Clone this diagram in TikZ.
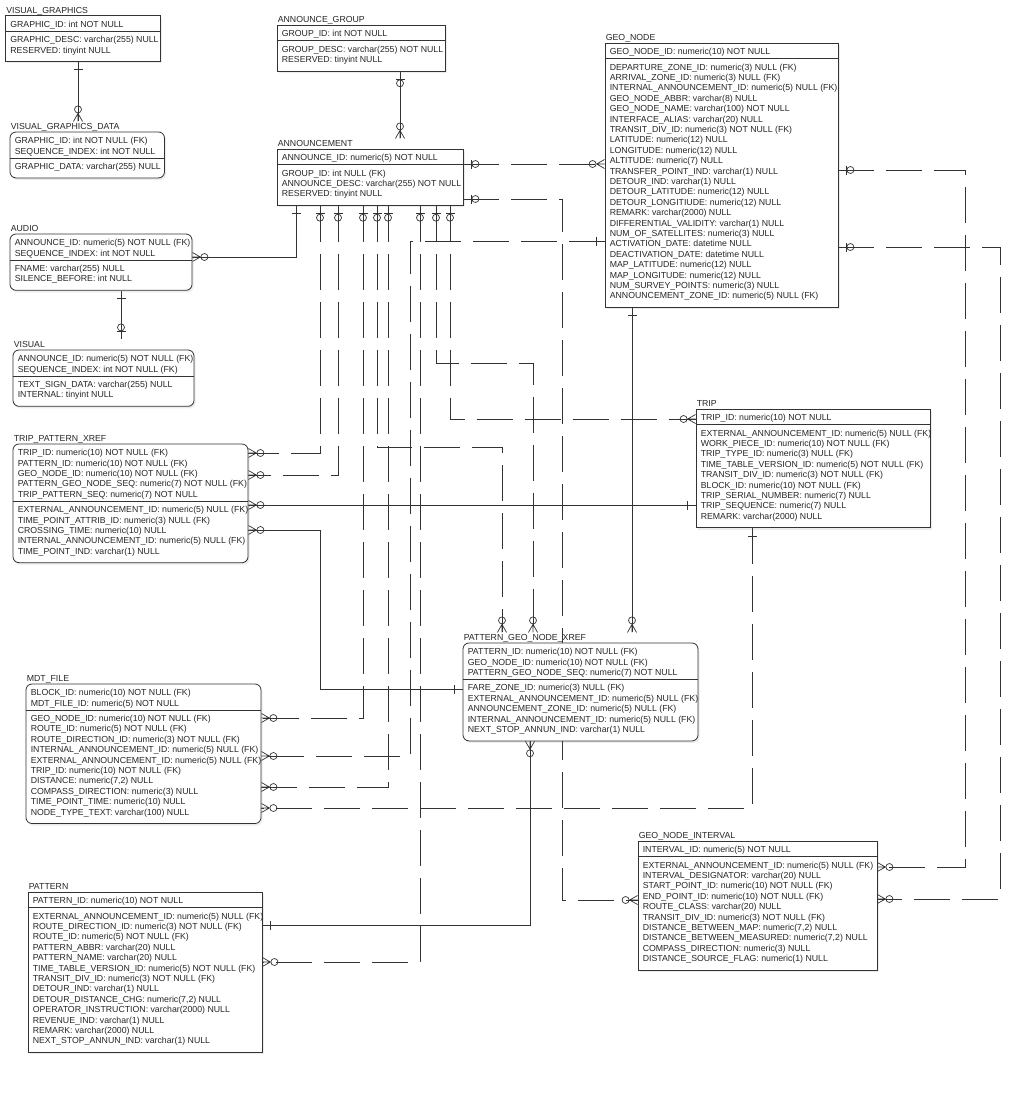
\documentclass[tikz,border=0pt]{standalone}
\usepackage{fontspec}
\setmainfont{Liberation Sans}
\usetikzlibrary{fit,shadows}
\pgfdeclarelayer{paper}
\pgfdeclarelayer{links}
\pgfsetlayers{paper,links,main}

\newcommand{\erfont}{\fontsize{8.75}{10.4}\selectfont}

\tikzset{
  ebox/.style={draw=black!80, fill=white, inner sep=0pt, line width=0.8pt,
    drop shadow={shadow xshift=1.5pt, shadow yshift=-2pt, opacity=0.15}},
  sharp/.style={},
  soft/.style={rounded corners=6pt},
  ttl/.style={anchor=base west, inner sep=0pt, text height=8pt, text depth=0pt, font=\erfont, text=black!85},
  rows/.style={anchor=base west, inner sep=0pt, font=\erfont, text=black!85},
  link/.style={draw=black!80, line width=0.7pt},
  idl/.style={link},
  nidl/.style={link, dash pattern=on 36pt off 12pt},
  mk/.style={draw=black!80, line width=0.7pt, solid},
  pics/zmany/.style={code={
    \draw[mk] (0,4.5) -- (8,0) -- (0,-4.5) (0,0) -- (8,0);
    \draw[mk] (12,0) circle[radius=3.5pt];
  }},
  pics/zone/.style={code={
    \draw[mk] (8,-4.5) -- (8,4.5);
    \draw[mk] (12,0) circle[radius=3.5pt];
  }},
  pics/onebar/.style={code={
    \draw[mk] (8,-4.5) -- (8,4.5);
  }},
}

% entity box: name, corner style, left, top, right, bottom, key divider offset, title
\newcommand{\erent}[8]{%
  \node[ebox,#2,fit={(#3,#4) (#5,#6)}] (#1) {};
  \draw[black!80,line width=0.7pt] ([yshift=-#7pt]#1.north west) -- ([yshift=-#7pt]#1.north east);
  \node[ttl] (#1-t) at ([xshift=1pt,yshift=2pt]#1.north west) {#8};
}
% attribute lines of an entity
\newcommand{\errows}[2]{%
  \node[rows] (#1-r) at ([xshift=5pt,yshift=-12pt]#1.north west) {\begin{tabular}[t]{@{}l@{}}#2\end{tabular}};
}

\begin{document}
\begin{tikzpicture}[x=1pt,y=-1pt]
\useasboundingbox (0,0) rectangle (1036,1093);
\begin{pgfonlayer}{paper}
  \fill[white] (0,0) rectangle (1036,1093);
\end{pgfonlayer}

% ---------------- entities ----------------
\erent{vg}{sharp}{5.5}{15.5}{160}{61.4}{16}{VISUAL\_GRAPHICS}
\errows{vg}{GRAPHIC\_ID: int NOT NULL\\[5.1pt]
GRAPHIC\_DESC: varchar(255) NULL\\
RESERVED: tinyint NULL}

\erent{vgd}{soft}{10}{132}{164.5}{177.9}{26.4}{VISUAL\_GRAPHICS\_DATA}
\errows{vgd}{GRAPHIC\_ID: int NOT NULL (FK)\\
SEQUENCE\_INDEX: int NOT NULL\\[5.1pt]
GRAPHIC\_DATA: varchar(255) NULL}

\erent{ag}{sharp}{277}{25}{445}{70.9}{16}{ANNOUNCE\_GROUP}
\errows{ag}{GROUP\_ID: int NOT NULL\\[5.1pt]
GROUP\_DESC: varchar(255) NOT NULL\\
RESERVED: tinyint NULL}

\erent{ann}{sharp}{277}{149}{463}{205.3}{16}{ANNOUNCEMENT}
\errows{ann}{ANNOUNCE\_ID: numeric(5) NOT NULL\\[5.1pt]
GROUP\_ID: int NULL (FK)\\
ANNOUNCE\_DESC: varchar(255) NOT NULL\\
RESERVED: tinyint NULL}

\erent{audio}{soft}{10}{234}{192}{290.3}{26.4}{AUDIO}
\errows{audio}{ANNOUNCE\_ID: numeric(5) NOT NULL (FK)\\
SEQUENCE\_INDEX: int NOT NULL\\[5.1pt]
FNAME: varchar(255) NULL\\
SILENCE\_BEFORE: int NULL}

\erent{visual}{soft}{13}{350}{194}{406.3}{26.4}{VISUAL}
\errows{visual}{ANNOUNCE\_ID: numeric(5) NOT NULL (FK)\\
SEQUENCE\_INDEX: int NOT NULL (FK)\\[5.1pt]
TEXT\_SIGN\_DATA: varchar(255) NULL\\
INTERNAL: tinyint NULL}

\erent{geo}{sharp}{605}{43}{838}{307.3}{16}{GEO\_NODE}
\errows{geo}{GEO\_NODE\_ID: numeric(10) NOT NULL\\[5.1pt]
DEPARTURE\_ZONE\_ID: numeric(3) NULL (FK)\\
ARRIVAL\_ZONE\_ID: numeric(3) NULL (FK)\\
INTERNAL\_ANNOUNCEMENT\_ID: numeric(5) NULL (FK)\\
GEO\_NODE\_ABBR: varchar(8) NULL\\
GEO\_NODE\_NAME: varchar(100) NOT NULL\\
INTERFACE\_ALIAS: varchar(20) NULL\\
TRANSIT\_DIV\_ID: numeric(3) NOT NULL (FK)\\
LATITUDE: numeric(12) NULL\\
LONGITUDE: numeric(12) NULL\\
ALTITUDE: numeric(7) NULL\\
TRANSFER\_POINT\_IND: varchar(1) NULL\\
DETOUR\_IND: varchar(1) NULL\\
DETOUR\_LATITUDE: numeric(12) NULL\\
DETOUR\_LONGITIUDE: numeric(12) NULL\\
REMARK: varchar(2000) NULL\\
DIFFERENTIAL\_VALIDITY: varchar(1) NULL\\
NUM\_OF\_SATELLITES: numeric(3) NULL\\
ACTIVATION\_DATE: datetime NULL\\
DEACTIVATION\_DATE: datetime NULL\\
MAP\_LATITUDE: numeric(12) NULL\\
MAP\_LONGITUDE: numeric(12) NULL\\
NUM\_SURVEY\_POINTS: numeric(3) NULL\\
ANNOUNCEMENT\_ZONE\_ID: numeric(5) NULL (FK)}

\erent{trip}{sharp}{696}{409}{930}{527.7}{16}{TRIP}
\errows{trip}{TRIP\_ID: numeric(10) NOT NULL\\[5.1pt]
EXTERNAL\_ANNOUNCEMENT\_ID: numeric(5) NULL (FK)\\
WORK\_PIECE\_ID: numeric(10) NOT NULL (FK)\\
TRIP\_TYPE\_ID: numeric(3) NULL (FK)\\
TIME\_TABLE\_VERSION\_ID: numeric(5) NOT NULL (FK)\\
TRANSIT\_DIV\_ID: numeric(3) NOT NULL (FK)\\
BLOCK\_ID: numeric(10) NOT NULL (FK)\\
TRIP\_SERIAL\_NUMBER: numeric(7) NULL\\
TRIP\_SEQUENCE: numeric(7) NULL\\
REMARK: varchar(2000) NULL}

\erent{tpx}{soft}{13}{444}{248}{562.7}{57.6}{TRIP\_PATTERN\_XREF}
\errows{tpx}{TRIP\_ID: numeric(10) NOT NULL (FK)\\
PATTERN\_ID: numeric(10) NOT NULL (FK)\\
GEO\_NODE\_ID: numeric(10) NOT NULL (FK)\\
PATTERN\_GEO\_NODE\_SEQ: numeric(7) NOT NULL (FK)\\
TRIP\_PATTERN\_SEQ: numeric(7) NOT NULL\\[5.1pt]
EXTERNAL\_ANNOUNCEMENT\_ID: numeric(5) NULL (FK)\\
TIME\_POINT\_ATTRIB\_ID: numeric(3) NULL (FK)\\
CROSSING\_TIME: numeric(10) NULL\\
INTERNAL\_ANNOUNCEMENT\_ID: numeric(5) NULL (FK)\\
TIME\_POINT\_IND: varchar(1) NULL}

\erent{pgnx}{soft}{463}{643}{698}{740.9}{36.8}{PATTERN\_GEO\_NODE\_XREF}
\errows{pgnx}{PATTERN\_ID: numeric(10) NOT NULL (FK)\\
GEO\_NODE\_ID: numeric(10) NOT NULL (FK)\\
PATTERN\_GEO\_NODE\_SEQ: numeric(7) NOT NULL\\[5.1pt]
FARE\_ZONE\_ID: numeric(3) NULL (FK)\\
EXTERNAL\_ANNOUNCEMENT\_ID: numeric(5) NULL (FK)\\
ANNOUNCEMENT\_ZONE\_ID: numeric(5) NULL (FK)\\
INTERNAL\_ANNOUNCEMENT\_ID: numeric(5) NULL (FK)\\
NEXT\_STOP\_ANNUN\_IND: varchar(1) NULL}

\erent{mdt}{soft}{26}{684}{261}{823.5}{26.4}{MDT\_FILE}
\errows{mdt}{BLOCK\_ID: numeric(10) NOT NULL (FK)\\
MDT\_FILE\_ID: numeric(5) NOT NULL\\[5.1pt]
GEO\_NODE\_ID: numeric(10) NOT NULL (FK)\\
ROUTE\_ID: numeric(5) NOT NULL (FK)\\
ROUTE\_DIRECTION\_ID: numeric(3) NOT NULL (FK)\\
INTERNAL\_ANNOUNCEMENT\_ID: numeric(5) NULL (FK)\\
EXTERNAL\_ANNOUNCEMENT\_ID: numeric(5) NULL (FK)\\
TRIP\_ID: numeric(10) NOT NULL (FK)\\
DISTANCE: numeric(7,2) NULL\\
COMPASS\_DIRECTION: numeric(3) NULL\\
TIME\_POINT\_TIME: numeric(10) NULL\\
NODE\_TYPE\_TEXT: varchar(100) NULL}

\erent{pat}{sharp}{28}{892}{262}{1052.3}{16}{PATTERN}
\errows{pat}{PATTERN\_ID: numeric(10) NOT NULL\\[5.1pt]
EXTERNAL\_ANNOUNCEMENT\_ID: numeric(5) NULL (FK)\\
ROUTE\_DIRECTION\_ID: numeric(3) NOT NULL (FK)\\
ROUTE\_ID: numeric(5) NOT NULL (FK)\\
PATTERN\_ABBR: varchar(20) NULL\\
PATTERN\_NAME: varchar(20) NULL\\
TIME\_TABLE\_VERSION\_ID: numeric(5) NOT NULL (FK)\\
TRANSIT\_DIV\_ID: numeric(3) NOT NULL (FK)\\
DETOUR\_IND: varchar(1) NULL\\
DETOUR\_DISTANCE\_CHG: numeric(7,2) NULL\\
OPERATOR\_INSTRUCTION: varchar(2000) NULL\\
REVENUE\_IND: varchar(1) NULL\\
REMARK: varchar(2000) NULL\\
NEXT\_STOP\_ANNUN\_IND: varchar(1) NULL}

\erent{gni}{sharp}{638}{841}{877}{970.1}{16}{GEO\_NODE\_INTERVAL}
\errows{gni}{INTERVAL\_ID: numeric(5) NOT NULL\\[5.1pt]
EXTERNAL\_ANNOUNCEMENT\_ID: numeric(5) NULL (FK)\\
INTERVAL\_DESIGNATOR: varchar(20) NULL\\
START\_POINT\_ID: numeric(10) NOT NULL (FK)\\
END\_POINT\_ID: numeric(10) NOT NULL (FK)\\
ROUTE\_CLASS: varchar(20) NULL\\
TRANSIT\_DIV\_ID: numeric(3) NOT NULL (FK)\\
DISTANCE\_BETWEEN\_MAP: numeric(7,2) NULL\\
DISTANCE\_BETWEEN\_MEASURED: numeric(7,2) NULL\\
COMPASS\_DIRECTION: numeric(3) NULL\\
DISTANCE\_SOURCE\_FLAG: numeric(1) NULL}

% ---------------- relationships ----------------
\begin{pgfonlayer}{links}
% VISUAL_GRAPHICS -> VISUAL_GRAPHICS_DATA
\coordinate (v1) at (78,90);
\draw[idl] (vg.south -| v1) -- (vgd-t.north -| v1);
\pic[rotate=-90] at (vg.south -| v1) {onebar};
\pic[rotate=90] at (vgd-t.north -| v1) {zmany};

% ANNOUNCE_GROUP -> ANNOUNCEMENT
\coordinate (g1) at (400,100);
\draw[idl] (ag.south -| g1) -- (ann-t.north -| g1);
\pic[rotate=-90] at (ag.south -| g1) {zone};
\pic[rotate=90] at (ann-t.north -| g1) {zmany};

% AUDIO -> VISUAL
\coordinate (a1) at (121,320);
\draw[idl] (audio.south -| a1) -- (visual-t.north -| a1);
\pic[rotate=-90] at (audio.south -| a1) {onebar};
\pic[rotate=90] at (visual-t.north -| a1) {zone};

% ANNOUNCEMENT -> AUDIO
\coordinate (n1) at (296,257);
\draw[idl] (ann.south -| n1) -- (n1) -- (audio.east |- n1);
\pic[rotate=-90] at (ann.south -| n1) {onebar};
\pic at (audio.east |- n1) {zmany};

% ANNOUNCEMENT -> GEO_NODE
\coordinate (n2) at (530,164);
\draw[nidl] (ann.east |- n2) -- (geo.west |- n2);
\pic at (ann.east |- n2) {zone};
\pic[rotate=180] at (geo.west |- n2) {zmany};

% ANNOUNCEMENT -> GEO_NODE_INTERVAL
\coordinate (n3) at (562,199);
\coordinate (n3b) at (562,900);
\draw[nidl] (ann.east |- n3) -- (n3) -- (n3b) -- (gni.west |- n3b);
\pic at (ann.east |- n3) {zone};
\pic[rotate=180] at (gni.west |- n3b) {zmany};

% ANNOUNCEMENT -> TRIP_PATTERN_XREF (two roles)
\coordinate (n4) at (320,453);
\draw[nidl] (ann.south -| n4) -- (n4) -- (tpx.east |- n4);
\pic[rotate=-90] at (ann.south -| n4) {zone};
\pic at (tpx.east |- n4) {zmany};

\coordinate (n5) at (338,475);
\draw[nidl] (ann.south -| n5) -- (n5) -- (tpx.east |- n5);
\pic[rotate=-90] at (ann.south -| n5) {zone};
\pic at (tpx.east |- n5) {zmany};

% ANNOUNCEMENT -> MDT_FILE (two roles)
\coordinate (n6) at (363,718);
\draw[nidl] (ann.south -| n6) -- (n6) -- (mdt.east |- n6);
\pic[rotate=-90] at (ann.south -| n6) {zone};
\pic at (mdt.east |- n6) {zmany};

\coordinate (n8) at (388,787);
\draw[nidl] (ann.south -| n8) -- (n8) -- (mdt.east |- n8);
\pic[rotate=-90] at (ann.south -| n8) {zone};
\pic at (mdt.east |- n8) {zmany};

% ANNOUNCEMENT -> PATTERN_GEO_NODE_XREF (two roles)
\coordinate (n7) at (377,447);
\coordinate (n7b) at (502,447);
\draw[nidl] (ann.south -| n7) -- (n7) -- (n7b) -- (pgnx-t.north -| n7b);
\pic[rotate=-90] at (ann.south -| n7) {zone};
\pic[rotate=90] at (pgnx-t.north -| n7b) {zmany};

\coordinate (n10) at (436,363);
\coordinate (n10b) at (533,363);
\draw[nidl] (ann.south -| n10) -- (n10) -- (n10b) -- (pgnx-t.north -| n10b);
\pic[rotate=-90] at (ann.south -| n10) {zone};
\pic[rotate=90] at (pgnx-t.north -| n10b) {zmany};

% ANNOUNCEMENT -> PATTERN
\coordinate (n9) at (420,962);
\draw[nidl] (ann.south -| n9) -- (n9) -- (pat.east |- n9);
\pic[rotate=-90] at (ann.south -| n9) {zone};
\pic at (pat.east |- n9) {zmany};

% ANNOUNCEMENT -> TRIP
\coordinate (n11) at (450,419);
\draw[nidl] (ann.south -| n11) -- (n11) -- (trip.west |- n11);
\pic[rotate=-90] at (ann.south -| n11) {zone};
\pic[rotate=180] at (trip.west |- n11) {zmany};

% GEO_NODE -> MDT_FILE
\coordinate (e1) at (410,241);
\coordinate (e1b) at (410,756);
\draw[nidl] (geo.west |- e1) -- (e1) -- (e1b) -- (mdt.east |- e1b);
\pic[rotate=180] at (geo.west |- e1) {onebar};
\pic at (mdt.east |- e1b) {zmany};

% GEO_NODE -> PATTERN_GEO_NODE_XREF
\coordinate (e2) at (632,400);
\draw[idl] (geo.south -| e2) -- (pgnx-t.north -| e2);
\pic[rotate=-90] at (geo.south -| e2) {onebar};
\pic[rotate=90] at (pgnx-t.north -| e2) {zmany};

% GEO_NODE -> GEO_NODE_INTERVAL (start and end points)
\coordinate (e3) at (965,170);
\coordinate (e3b) at (965,867);
\draw[nidl] (geo.east |- e3) -- (e3) -- (e3b) -- (gni.east |- e3b);
\pic at (geo.east |- e3) {zone};
\pic at (gni.east |- e3b) {zmany};

\coordinate (e4) at (1000,247);
\coordinate (e4b) at (1000,899);
\draw[nidl] (geo.east |- e4) -- (e4) -- (e4b) -- (gni.east |- e4b);
\pic at (geo.east |- e4) {zone};
\pic at (gni.east |- e4b) {zmany};

% TRIP -> TRIP_PATTERN_XREF
\coordinate (t1) at (470,505);
\draw[idl] (trip.west |- t1) -- (tpx.east |- t1);
\pic[rotate=180] at (trip.west |- t1) {onebar};
\pic at (tpx.east |- t1) {zmany};

% TRIP -> MDT_FILE
\coordinate (t2) at (752,808);
\draw[nidl] (trip.south -| t2) -- (t2) -- (mdt.east |- t2);
\pic[rotate=-90] at (trip.south -| t2) {onebar};
\pic at (mdt.east |- t2) {zmany};

% PATTERN_GEO_NODE_XREF -> TRIP_PATTERN_XREF
\coordinate (p1) at (320,689);
\coordinate (p1b) at (320,530);
\draw[idl] (pgnx.west |- p1) -- (p1) -- (p1b) -- (tpx.east |- p1b);
\pic[rotate=180] at (pgnx.west |- p1) {onebar};
\pic at (tpx.east |- p1b) {zmany};

% PATTERN -> PATTERN_GEO_NODE_XREF
\coordinate (p2) at (530,925);
\draw[idl] (pat.east |- p2) -- (p2) -- (pgnx.south -| p2);
\pic at (pat.east |- p2) {onebar};
\pic[rotate=-90] at (pgnx.south -| p2) {zmany};
\end{pgfonlayer}
\end{tikzpicture}
\end{document}
